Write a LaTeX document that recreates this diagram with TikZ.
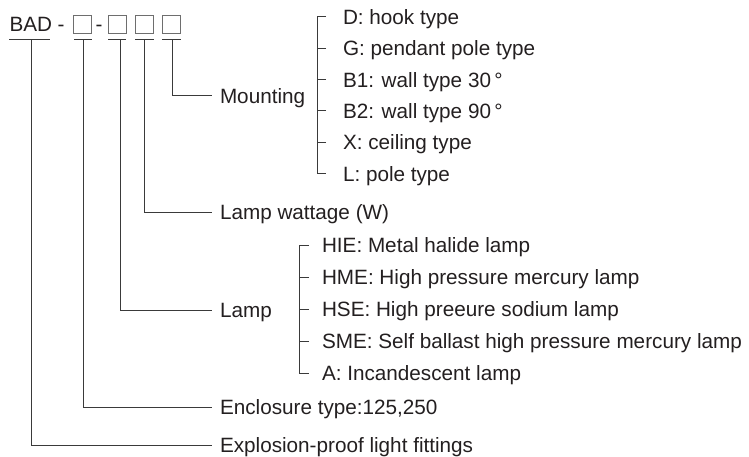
\documentclass[tikz,border=0pt]{standalone}
\usepackage{fontspec}
\setmainfont{Liberation Sans}
\definecolor{txt}{HTML}{231F20}
\definecolor{ln}{HTML}{3A3A3A}
\definecolor{bx}{HTML}{6E6E6E}
\begin{document}
\begin{tikzpicture}[x=1pt,y=-1pt,
  lbl/.style={anchor=west,inner xsep=0pt,inner ysep=0pt,outer xsep=8pt,
    text height=14.8pt,text depth=0pt,font=\fontsize{20.7}{24}\selectfont,text=txt},
  item/.style={lbl,outer xsep=17pt},
  litem/.style={lbl,outer xsep=13pt},
  wire/.style={draw=ln,line width=1pt},
  cbox/.style={draw=bx,line width=0.9pt,minimum width=18.5pt,minimum height=18.5pt,inner sep=0pt}]
\useasboundingbox (0,0) rectangle (749,457);
% code line
\node[lbl,outer xsep=0pt] (bad) at (9.5,24) {BAD};
\node[lbl,outer xsep=0pt] (d1) at (57.5,24) {-};
\node[cbox] (b1) at (82.5,24.5) {};
\node[lbl,outer xsep=0pt] (d2) at (95.5,24) {-};
\node[cbox] (b2) at (117.5,24.5) {};
\node[cbox] (b3) at (144.5,24.5) {};
\node[cbox] (b4) at (171.5,24.5) {};
% underlines
\coordinate (u0) at (31,39.5);
\coordinate (u1) at (83,39.5);
\coordinate (u2) at (120,39.5);
\coordinate (u3) at (144,39.5);
\coordinate (u4) at (172,39.5);
\draw[wire] (9,39.5) -- (50,39.5);
\draw[wire] (74,39.5) -- (92,39.5);
\draw[wire] (108,39.5) -- (126,39.5);
\draw[wire] (135,39.5) -- (154,39.5);
\draw[wire] (162,39.5) -- (181,39.5);
% labels
\node[lbl] (mount) at (212,96) {Mounting};
\node[lbl] (watt) at (212,212) {Lamp wattage (W)};
\node[lbl] (lamp) at (212,310) {Lamp};
\node[lbl] (encl) at (212,407) {Enclosure type:125,250};
\node[lbl] (expl) at (212,445) {Explosion-proof light fittings};
\draw[wire] (u4) |- (mount.west);
\draw[wire] (u3) |- (watt.west);
\draw[wire] (u2) |- (lamp.west);
\draw[wire] (u1) |- (encl.west);
\draw[wire] (u0) |- (expl.west);
% mounting list
\node[item] (mD) at (326,17) {D: hook type};
\node[item] (mG) at (326,48.5) {G: pendant pole type};
\node[item] (mB1) at (326,80) {B1: wall type 30\,°};
\node[item] (mB2) at (326,111) {B2: wall type 90\,°};
\node[item] (mX) at (326,142.5) {X: ceiling type};
\node[item] (mL) at (326,174) {L: pole type};
\draw[wire] (mD.west) -- ++(-9,0) |- (mL.west);
\foreach \n in {mG,mB1,mB2,mX}{\draw[wire] (\n.west) -- ++(-9,0);}
% lamp list
\node[litem] (lH) at (309,245) {HIE: Metal halide lamp};
\node[litem] (lM) at (309,277.5) {HME: High pressure mercury lamp};
\node[litem] (lS) at (309,309) {HSE: High preeure sodium lamp};
\node[litem] (lSM) at (309,341) {SME: Self ballast high pressure mercury lamp};
\node[litem] (lA) at (309,373) {A: Incandescent lamp};
\draw[wire] (lH.west) -- ++(-10,0) |- (lA.west);
\foreach \n in {lM,lS,lSM}{\draw[wire] (\n.west) -- ++(-10,0);}
\end{tikzpicture}
\end{document}
